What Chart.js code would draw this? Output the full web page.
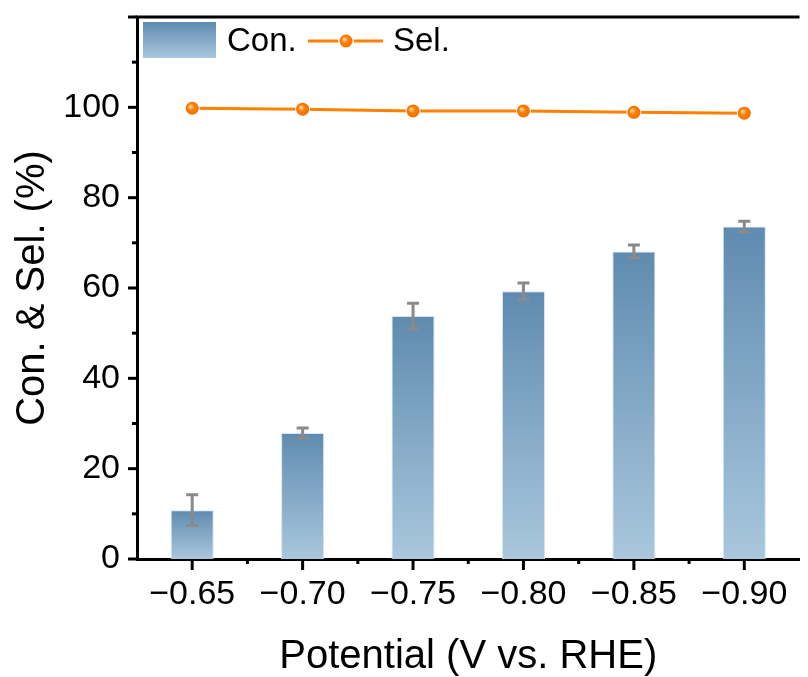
<!DOCTYPE html>
<html>
<head>
<meta charset="utf-8">
<script src="https://cdn.jsdelivr.net/npm/chart.js@4"></script>
<style>
  html, body { margin: 0; padding: 0; background: #fff; overflow: hidden; }
  #wrap { width: 808px; height: 677px; }
</style>
</head>
<body>
<div id="wrap"><canvas id="chart" width="808" height="677"></canvas></div>
<script>
// data
const potentials = ['\u22120.65', '\u22120.70', '\u22120.75', '\u22120.80', '\u22120.85', '\u22120.90'];
const conversion = [10.8, 27.9, 53.8, 59.3, 68.1, 73.6];
const convError  = [3.4, 1.1, 2.8, 1.8, 1.4, 1.2];
const selectivity = [99.8, 99.6, 99.2, 99.2, 98.9, 98.7];

const FONT = "'Liberation Sans', Arial, sans-serif";
const ORANGE = '#ff8000';
const BAR_TOP = '#5f8bb0';
const BAR_BOT = '#a9c7dd';

function barGradient(ctx, yTop, yBase) {
  const g = ctx.createLinearGradient(0, yTop, 0, yBase);
  g.addColorStop(0, BAR_TOP);
  g.addColorStop(1, BAR_BOT);
  return g;
}

function sphere(ctx, x, y, r) {
  const g = ctx.createRadialGradient(x - 2, y - 2, 0.5, x, y, r);
  g.addColorStop(0, '#ffd9a8');
  g.addColorStop(0.45, ORANGE);
  g.addColorStop(1, '#f07000');
  ctx.fillStyle = g;
  ctx.beginPath(); ctx.arc(x, y, r, 0, Math.PI * 2); ctx.fill();
}

// ticks outside, error bars, legend inside the frame, top border
const extras = {
  id: 'extras',
  afterDatasetsDraw(chart) {
    const { ctx, chartArea: a, scales: { x, y } } = chart;
    ctx.save();

    // error bars on the Con. bars
    ctx.strokeStyle = '#8a8a8a';
    ctx.lineWidth = 3;
    chart.getDatasetMeta(0).data.forEach((bar, i) => {
      const yHi = y.getPixelForValue(conversion[i] + convError[i]);
      const yLo = y.getPixelForValue(conversion[i] - convError[i]);
      const cx = bar.x, cap = 6;
      ctx.beginPath();
      ctx.moveTo(cx, yHi); ctx.lineTo(cx, yLo);
      ctx.moveTo(cx - cap, yHi); ctx.lineTo(cx + cap, yHi);
      ctx.moveTo(cx - cap, yLo); ctx.lineTo(cx + cap, yLo);
      ctx.stroke();
    });

    // shading on the sel. markers
    chart.getDatasetMeta(1).data.forEach(p => sphere(ctx, p.x, p.y, 6.5));

    // frame: top border + tick marks
    ctx.strokeStyle = '#000';
    ctx.lineWidth = 3;
    ctx.beginPath();
    ctx.moveTo(a.left - 1.5, a.top); ctx.lineTo(a.right, a.top);
    ctx.stroke();

    y.ticks.forEach(t => {
      const py = y.getPixelForValue(t.value);
      const len = t.value % 20 === 0 ? 9 : 5;
      ctx.beginPath(); ctx.moveTo(a.left - len, py); ctx.lineTo(a.left, py); ctx.stroke();
    });
    potentials.forEach((_, i) => {
      const px = x.getPixelForTick(i);
      ctx.beginPath(); ctx.moveTo(px, a.bottom); ctx.lineTo(px, a.bottom + 11); ctx.stroke();
      if (i < potentials.length - 1) {
        const mx = (px + x.getPixelForTick(i + 1)) / 2;
        ctx.beginPath(); ctx.moveTo(mx, a.bottom); ctx.lineTo(mx, a.bottom + 5); ctx.stroke();
      }
    });

    // legend
    const lx = a.left + 6, ly = a.top + 5, ty = ly + 19;
    ctx.fillStyle = barGradient(ctx, ly, ly + 36);
    ctx.fillRect(lx, ly, 73, 36);
    ctx.fillStyle = '#000';
    ctx.font = '33px ' + FONT;
    ctx.textBaseline = 'middle';
    ctx.textAlign = 'left';
    ctx.fillText('Con.', lx + 84, ty + 1);
    ctx.strokeStyle = ORANGE;
    ctx.lineWidth = 3;
    ctx.beginPath(); ctx.moveTo(lx + 165, ty); ctx.lineTo(lx + 240, ty); ctx.stroke();
    ctx.fillStyle = '#fff';
    ctx.beginPath(); ctx.arc(lx + 203, ty, 8, 0, Math.PI * 2); ctx.fill();
    sphere(ctx, lx + 203, ty, 6.5);
    ctx.fillStyle = '#000';
    ctx.fillText('Sel.', lx + 250, ty + 1);

    ctx.restore();
  }
};

new Chart(document.getElementById('chart'), {
  data: {
    labels: potentials,
    datasets: [
      {
        type: 'bar',
        label: 'Con.',
        data: conversion,
        order: 1,
        barPercentage: 0.39,
        categoryPercentage: 1,
        borderWidth: 1,
        borderColor: '#d6e4ef',
        borderSkipped: 'bottom',
        backgroundColor: c => {
          const { chart } = c;
          if (!chart.chartArea || c.raw === undefined) return BAR_TOP;
          const s = chart.scales.y;
          return barGradient(chart.ctx, s.getPixelForValue(c.raw), s.getPixelForValue(0));
        }
      },
      {
        type: 'line',
        label: 'Sel.',
        data: selectivity,
        order: 0,
        borderColor: ORANGE,
        borderWidth: 3,
        pointRadius: 6.5,
        pointBorderWidth: 2,
        pointBorderColor: '#fff',
        pointBackgroundColor: ORANGE,
        tension: 0
      }
    ]
  },
  options: {
    responsive: false,
    animation: false,
    layout: { padding: { top: 17, right: 0, left: 0, bottom: 0 } },
    plugins: { legend: { display: false }, tooltip: { enabled: false } },
    scales: {
      x: {
        type: 'category',
        offset: true,
        grid: { display: false, drawTicks: false },
        border: { display: true, color: '#000', width: 3 },
        ticks: { color: '#000', font: { family: FONT, size: 34 }, padding: 15, maxRotation: 0 },
        title: { display: true, text: 'Potential (V vs. RHE)', color: '#000',
                 font: { family: FONT, size: 40, lineHeight: 1 }, padding: { top: 0, bottom: 0 } },
        afterFit: s => { s.height = 118; s.paddingLeft = 0; s.paddingRight = 0; }
      },
      y: {
        min: 0, max: 120,
        grid: { display: false, drawTicks: false },
        border: { display: true, color: '#000', width: 3 },
        ticks: {
          stepSize: 10, color: '#000', font: { family: FONT, size: 34 }, padding: 17,
          callback: v => (v % 20 === 0 && v <= 100) ? v : ''
        },
        title: { display: true, text: 'Con. & Sel. (%)', color: '#000',
                 font: { family: FONT, size: 40, lineHeight: 1.2 }, padding: { top: 9, bottom: 0 } },
        afterFit: s => { s.width = 137; s.paddingTop = 0; s.paddingBottom = 0; }
      }
    }
  },
  plugins: [extras]
});
</script>
</body>
</html>
